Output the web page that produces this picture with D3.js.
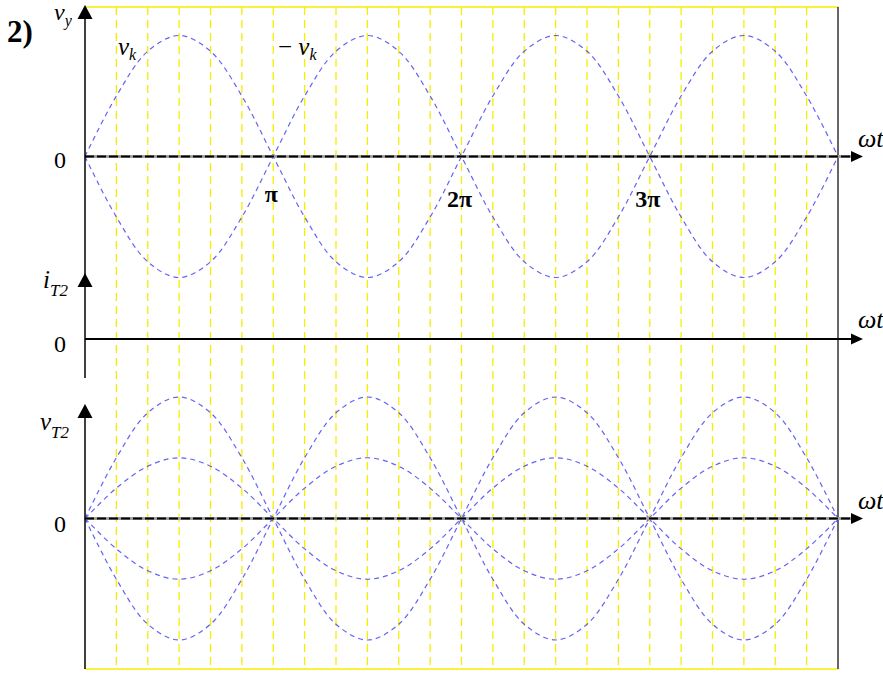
<!DOCTYPE html>
<html>
<head>
<meta charset="utf-8">
<script src="https://cdn.jsdelivr.net/npm/d3@7"></script>
<style>
  html, body { margin: 0; padding: 0; background: #fff; }
  svg { display: block; }
  svg text { font-family: "Liberation Serif", Tinos, "Times New Roman", "DejaVu Serif", "Noto Serif", FreeSerif, serif; }
</style>
</head>
<body>
<svg id="chart" width="883" height="673"></svg>
<script>
// Phase angle ωt in degrees, sampled every 30°, over two full periods (0 … 4π)
const phaseDeg = [0, 30, 60, 90, 120, 150, 180, 210, 240, 270, 300, 330, 360,
                  390, 420, 450, 480, 510, 540, 570, 600, 630, 660, 690, 720];

// Normalised source voltage v_k at each phase sample
const vk = [0, 0.5, 0.87, 1, 0.87, 0.5, 0, -0.5, -0.87, -1, -0.87, -0.5, 0,
            0.5, 0.87, 1, 0.87, 0.5, 0, -0.5, -0.87, -1, -0.87, -0.5, 0];
// Its inverse −v_k
const vkNeg = [0, -0.5, -0.87, -1, -0.87, -0.5, 0, 0.5, 0.87, 1, 0.87, 0.5, 0,
               -0.5, -0.87, -1, -0.87, -0.5, 0, 0.5, 0.87, 1, 0.87, 0.5, 0];
// Half-amplitude traces on the v_T2 plot
const vkHalf = [0, 0.25, 0.43, 0.5, 0.43, 0.25, 0, -0.25, -0.43, -0.5, -0.43, -0.25, 0,
                0.25, 0.43, 0.5, 0.43, 0.25, 0, -0.25, -0.43, -0.5, -0.43, -0.25, 0];
const vkHalfNeg = [0, -0.25, -0.43, -0.5, -0.43, -0.25, 0, 0.25, 0.43, 0.5, 0.43, 0.25, 0,
                   -0.25, -0.43, -0.5, -0.43, -0.25, 0, 0.25, 0.43, 0.5, 0.43, 0.25, 0];
// Thyristor current i_T2 stays at zero
const iT2 = [0, 0, 0, 0, 0, 0, 0, 0, 0, 0, 0, 0, 0, 0, 0, 0, 0, 0, 0, 0, 0, 0, 0, 0, 0];

// Labelled multiples of π on the time axis
const piTicks = [180, 360, 540];
const piLabels = ["π", "2π", "3π"];

const svg = d3.select("#chart");

const x = d3.scaleLinear().domain([0, 720]).range([85, 838]);
const yTop = d3.scaleLinear().domain([-1, 1]).range([277.5, 35.5]);
const yMid = d3.scaleLinear().domain([-1, 1]).range([460, 218]);
const yBot = d3.scaleLinear().domain([-1, 1]).range([640, 397]);

const plotTop = 7, plotBottom = 669;

// Yellow dashed grid every 30°
const gridDeg = phaseDeg.filter(d => d > 0 && d < 720);
svg.append("g").selectAll("line").data(gridDeg).join("line")
  .attr("x1", d => x(d)).attr("x2", d => x(d))
  .attr("y1", plotTop).attr("y2", plotBottom)
  .attr("stroke", "#f6ee00").attr("stroke-width", 1.3)
  .attr("stroke-dasharray", "8,5");

// Frame: yellow top and bottom, black right edge
svg.append("line").attr("x1", x(0)).attr("x2", x(720)).attr("y1", plotTop).attr("y2", plotTop)
  .attr("stroke", "#f6ee00").attr("stroke-width", 1.5);
svg.append("line").attr("x1", x(0)).attr("x2", x(720)).attr("y1", plotBottom).attr("y2", plotBottom)
  .attr("stroke", "#f6ee00").attr("stroke-width", 1.5);
svg.append("line").attr("x1", x(720)).attr("x2", x(720)).attr("y1", plotTop).attr("y2", plotBottom)
  .attr("stroke", "#000").attr("stroke-width", 1.2);

// Dashed waveform traces
function trace(values, y) {
  const line = d3.line()
    .x((d, i) => x(phaseDeg[i]))
    .y(d => y(d))
    .curve(d3.curveCatmullRom.alpha(0.5));
  svg.append("path").datum(values)
    .attr("d", line)
    .attr("fill", "none")
    .attr("stroke", "#3c3cf0").attr("stroke-opacity", 0.8)
    .attr("stroke-width", 1.2)
    .attr("stroke-dasharray", "5,4");
}
trace(vk, yTop);
trace(vkNeg, yTop);
trace(vk, yBot);
trace(vkNeg, yBot);
trace(vkHalf, yBot);
trace(vkHalfNeg, yBot);

// Horizontal ωt axes with arrow heads
function timeAxis(y0, dashed) {
  if (dashed) {
    svg.append("line").attr("x1", x(0)).attr("x2", 856).attr("y1", y0).attr("y2", y0)
      .attr("stroke", "#a0a0a0").attr("stroke-width", 3.2);
    svg.append("line").attr("x1", x(0)).attr("x2", 856).attr("y1", y0).attr("y2", y0)
      .attr("stroke", "#000").attr("stroke-width", 2).attr("stroke-dasharray", "9,3");
  } else {
    svg.append("line").attr("x1", x(0)).attr("x2", 856).attr("y1", y0).attr("y2", y0)
      .attr("stroke", "#000").attr("stroke-width", 1.8);
  }
  svg.append("path")
    .attr("d", `M863,${y0} L851,${y0 - 5.5} L851,${y0 + 5.5} Z`)
    .attr("fill", "#000");
}
timeAxis(yTop(0), true);
timeAxis(yMid(iT2[0]), false);
timeAxis(yBot(0), true);

// Vertical axes with arrow heads
function upArrow(tipY) {
  svg.append("path")
    .attr("d", `M${x(0)},${tipY} L${x(0) - 7.5},${tipY + 14} L${x(0) + 7.5},${tipY + 14} Z`)
    .attr("fill", "#000");
}
svg.append("line").attr("x1", x(0)).attr("x2", x(0)).attr("y1", 18).attr("y2", 378)
  .attr("stroke", "#000").attr("stroke-width", 1.5);
upArrow(5);
upArrow(273);
svg.append("line").attr("x1", x(0)).attr("x2", x(0)).attr("y1", 416).attr("y2", plotBottom)
  .attr("stroke", "#000").attr("stroke-width", 1.5);
upArrow(404);

// Labels
svg.append("text").attr("x", 7).attr("y", 42)
  .attr("font-size", 31).attr("font-weight", "bold").text("2)");

function subLabel(xp, yp, main, sub, opts = {}) {
  const t = svg.append("text").attr("x", xp).attr("y", yp)
    .attr("font-size", opts.size || 25).attr("font-style", "italic");
  if (opts.prefix) t.append("tspan").attr("font-style", "normal").text(opts.prefix);
  t.append("tspan").text(main);
  t.append("tspan").attr("dy", opts.dy || 6).attr("font-size", opts.subSize || 16).text(sub);
}
subLabel(54, 20, "v", "y", {dy: 6, size: 24});
subLabel(118, 55, "v", "k", {dy: 5});
subLabel(278, 55, "v", "k", {dy: 5, prefix: "− "});
subLabel(43, 288, "i", "T2", {dy: 8, subSize: 17});
subLabel(40, 430, "v", "T2", {dy: 8, subSize: 17});

// Zero labels
[[yTop(0) + 11.5], [yMid(0) + 13], [yBot(0) + 13]].forEach(([yy]) => {
  svg.append("text").attr("x", 54).attr("y", yy).attr("font-size", 24).text("0");
});

// π multiples under the top axis
svg.append("g").selectAll("text").data(piTicks).join("text")
  .attr("x", d => x(d) - 2)
  .attr("y", (d, i) => i === 0 ? 202 : 207)
  .attr("text-anchor", "middle")
  .attr("font-size", 24).attr("font-weight", "bold")
  .text((d, i) => piLabels[i]);

// ωt labels
[147, 328, 509].forEach(yy => {
  svg.append("text").attr("x", 858).attr("y", yy)
    .attr("font-size", 26).attr("font-style", "italic").text("ωt");
});
</script>
</body>
</html>
